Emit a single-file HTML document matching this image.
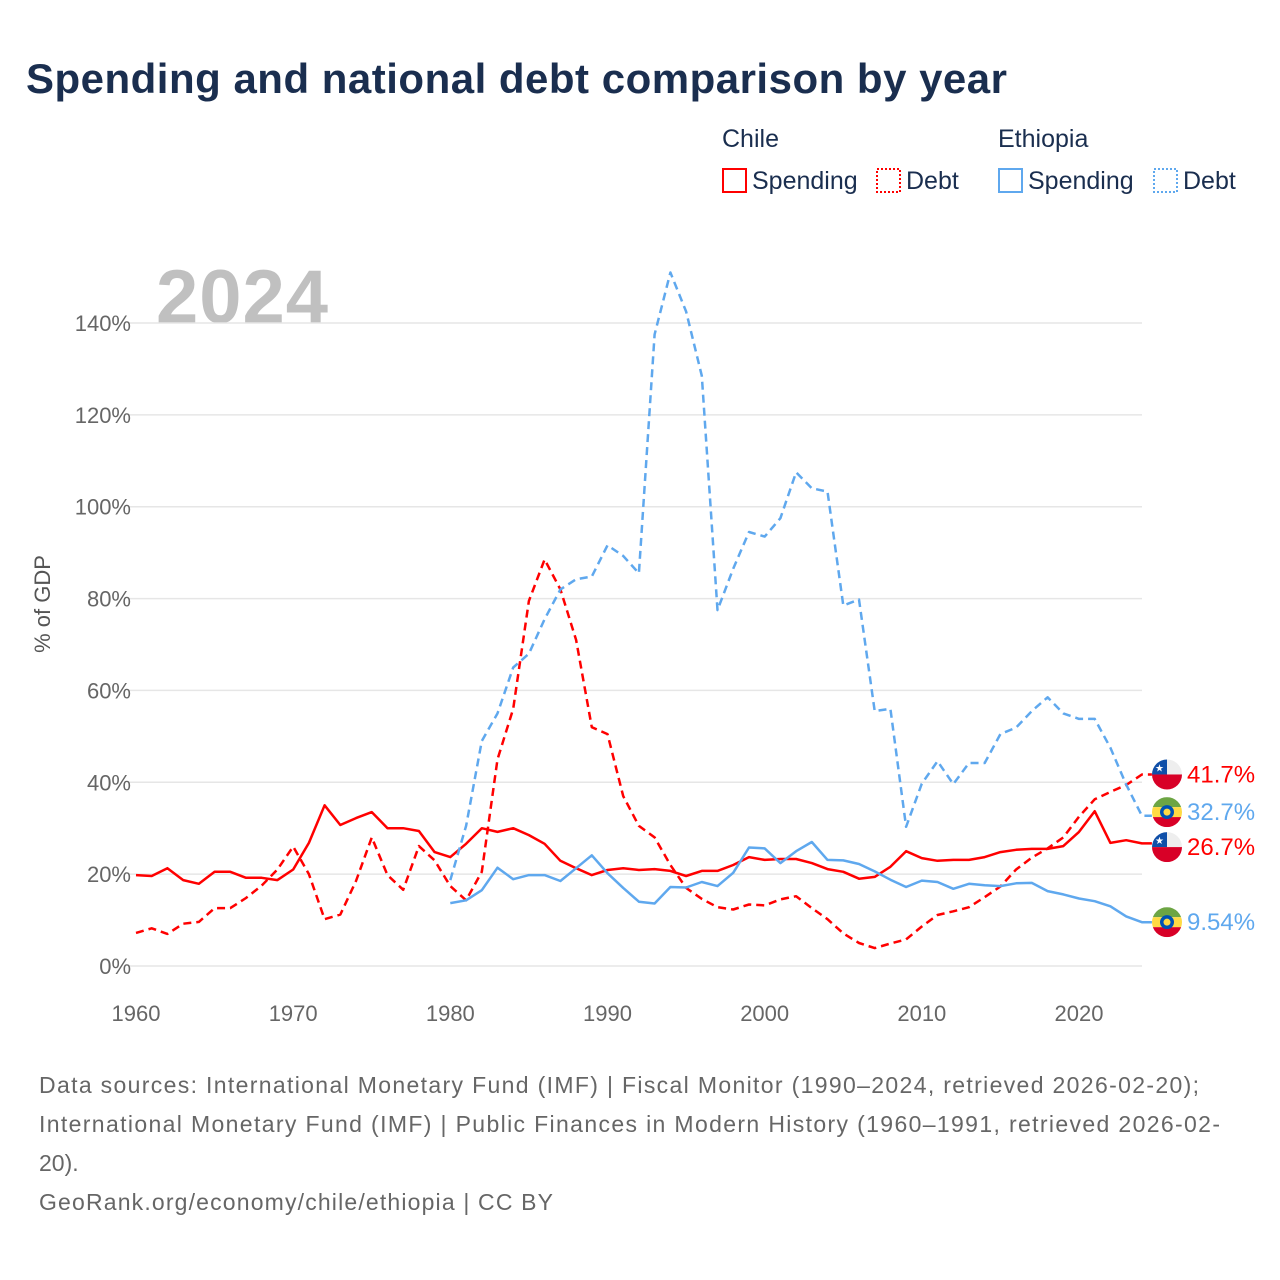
<!DOCTYPE html>
<html><head><meta charset="utf-8"><style>
body{margin:0;background:#fff;width:1280px;height:1280px;overflow:hidden;font-family:"Liberation Sans",sans-serif;}
svg{display:block}
</style></head><body>
<svg id="chart" width="1280" height="1280" xmlns="http://www.w3.org/2000/svg">
<text x="26" y="93" font-size="42" font-weight="bold" fill="#1a2e4f" textLength="981">Spending and national debt comparison by year</text>
<g font-size="25" fill="#1a2e4f">
<text x="722" y="147">Chile</text>
<text x="998" y="147">Ethiopia</text>
<g><rect x="723" y="169" width="23" height="23" fill="none" stroke="#f00" stroke-width="2"/><text x="752" y="189">Spending</text></g>
<g><rect x="877" y="169" width="23" height="23" fill="none" stroke="#f00" stroke-width="2" stroke-dasharray="2,2"/><text x="906" y="189">Debt</text></g>
<g><rect x="999" y="169" width="23" height="23" fill="none" stroke="#5fa8ee" stroke-width="2"/><text x="1028" y="189">Spending</text></g>
<g><rect x="1154" y="169" width="23" height="23" fill="none" stroke="#5fa8ee" stroke-width="2" stroke-dasharray="2,2"/><text x="1183" y="189">Debt</text></g>
</g>
<text x="156" y="323" font-size="76" font-weight="bold" fill="#c0c0c0" textLength="172">2024</text>
<text transform="translate(50,604) rotate(-90)" text-anchor="middle" font-size="22" fill="#555">% of GDP</text>
<g id="grid"></g><g id="series"></g><g id="ends"></g>
<g font-size="23" fill="#666">
<text x="39" y="1093" textLength="1160">Data sources: International Monetary Fund (IMF) | Fiscal Monitor (1990–2024, retrieved 2026-02-20);</text>
<text x="39" y="1132" textLength="1181">International Monetary Fund (IMF) | Public Finances in Modern History (1960–1991, retrieved 2026-02-</text>
<text x="39" y="1171">20).</text>
<text x="39" y="1210" textLength="514">GeoRank.org/economy/chile/ethiopia | CC BY</text>
</g>
</svg>
<script>
const yTicks=[0,20,40,60,80,100,120,140];
const xTicks=[1960,1970,1980,1990,2000,2010,2020];
const chileYears0=1960, ethYears0=1980;
const chileSpending=[19.8,19.6,21.3,18.7,17.9,20.5,20.5,19.2,19.2,18.7,21,26.8,35,30.7,32.2,33.5,30,30,29.4,24.8,23.7,26.6,30,29.2,30,28.5,26.6,22.9,21.3,19.8,20.9,21.3,20.9,21.1,20.7,19.6,20.7,20.7,22,23.7,23.1,23.3,23.3,22.4,21.1,20.5,19,19.4,21.6,25,23.5,22.9,23.1,23.1,23.7,24.8,25.3,25.5,25.5,26.1,29.2,33.7,26.8,27.4,26.7];
const chileDebt=[7.2,8.2,7.0,9.2,9.6,12.6,12.6,14.8,17.5,21,26,20,10.2,11.2,18.5,28,19.8,16.6,26.1,23,17.4,14.3,20.5,45,56,79.5,88.5,82,71,52,50.5,37,30.5,28,22,17,14.6,12.8,12.3,13.4,13.2,14.5,15.2,12.6,10.2,7.1,5.0,3.9,4.9,5.8,8.6,11.1,11.9,12.8,15.0,17.3,21,23.6,25.6,28,32.5,36.3,37.9,39.4,41.7];
const ethSpending=[13.7,14.3,16.5,21.4,18.9,19.8,19.8,18.5,21.3,24.1,20.2,17,14,13.6,17.2,17.1,18.3,17.4,20.3,25.8,25.6,22.4,25,27,23.1,23,22.2,20.6,18.8,17.2,18.6,18.3,16.8,17.9,17.6,17.4,18,18.1,16.3,15.6,14.7,14.1,13,10.8,9.54];
const ethDebt=[18.7,30.5,49,55,65,68,75.5,82,84.2,84.8,91.6,89.3,85.5,137.5,151,142.5,128.5,77.5,86.5,94.5,93.5,97.5,107.5,104,103.3,78.5,79.8,55.5,56,30.3,39.7,44.6,39.6,44.2,44.2,50.5,51.9,55.5,58.5,55,53.8,53.8,47.5,39.5,32.7];
const endLabels=["41.7%","32.7%","26.7%","9.54%"];
const NS="http://www.w3.org/2000/svg";
const X=yr=>136+(yr-1960)*(943/60);
const Y=v=>966-v*(643/140);
function mk(tag,attrs,parent){const e=document.createElementNS(NS,tag);for(const k in attrs)e.setAttribute(k,attrs[k]);parent.appendChild(e);return e;}
const grid=document.getElementById('grid');
yTicks.forEach(t=>{
 const l=mk('line',{x1:128,x2:1142,y1:Y(t),y2:Y(t),stroke:'#e6e6e6','stroke-width':1.5},grid);
 
 
 const tx=mk('text',{x:131,y:Y(t)+8,'text-anchor':'end','font-size':22,fill:'#666'},grid);
 tx.textContent=t+'%';
 
 
});
xTicks.forEach(t=>{
 const tx=mk('text',{x:X(t),y:1021,'text-anchor':'middle','font-size':22,fill:'#666'},grid);
 tx.textContent=t;
 
 
});
const ser=document.getElementById('series');
function line(arr,y0,color,dash,name){
 const pts=arr.map((v,i)=>X(y0+i).toFixed(1)+','+Y(v).toFixed(1));
 const last=arr[arr.length-1];
 pts.push((X(y0+arr.length-1)+10).toFixed(1)+','+Y(last).toFixed(1));
 const p=mk('polyline',{points:pts.join(' '),fill:'none',stroke:color,'stroke-width':2.5,'stroke-linejoin':'round'},ser);
 if(dash)p.setAttribute('stroke-dasharray','8,5');
 
 
}
line(chileSpending,chileYears0,'#ff0000',false,'chile-spending-line');
line(chileDebt,chileYears0,'#ff0000',true,'chile-debt-line');
line(ethSpending,ethYears0,'#5fa8ee',false,'ethiopia-spending-line');
line(ethDebt,ethYears0,'#5fa8ee',true,'ethiopia-debt-line');
const ends=document.getElementById('ends');
const endVals=[chileDebt[chileDebt.length-1],ethDebt[ethDebt.length-1],chileSpending[chileSpending.length-1],ethSpending[ethSpending.length-1]];
const endCountry=['chile','ethiopia','chile','ethiopia'];
const endColor=['#ff0000','#5fa8ee','#ff0000','#5fa8ee'];
const endYs=[];
endVals.forEach((v,i)=>{endYs.push(Y(v));});
// simple collision avoidance: keep labels >= 35px apart
for(let k=0;k<3;k++){for(let i=0;i<endYs.length;i++)for(let j=0;j<endYs.length;j++){if(i===j)continue;const d=endYs[j]-endYs[i];if(d>=0&&d<35){const s=(35-d)/2;endYs[i]-=s;endYs[j]+=s;}}}
endVals.forEach((v,i)=>{
 const cy=endYs[i], cx=1167;
 const g=mk('g',{},ends);
 
 
 const id='c'+i;
 const cp=mk('clipPath',{id:id},g);mk('circle',{cx:cx,cy:cy,r:15},cp);
 const fg=mk('g',{'clip-path':'url(#'+id+')'},g);
 if(endCountry[i]==='chile'){
  mk('rect',{x:cx-15,y:cy-15,width:30,height:15,fill:'#eee'},fg);
  mk('rect',{x:cx-15,y:cy-15,width:15,height:15,fill:'#0f4fa8'},fg);
  mk('rect',{x:cx-15,y:cy,width:30,height:15,fill:'#d80027'},fg);
  const s=mk('text',{x:cx-7.5,y:cy-3,'text-anchor':'middle','font-size':10,fill:'#fff'},fg);s.textContent='★';
 } else {
  mk('rect',{x:cx-15,y:cy-15,width:30,height:10,fill:'#6da544'},fg);
  mk('rect',{x:cx-15,y:cy-5,width:30,height:10,fill:'#ffda44'},fg);
  mk('rect',{x:cx-15,y:cy+5,width:30,height:10,fill:'#d80027'},fg);
  mk('circle',{cx:cx,cy:cy,r:7,fill:'#0052b4'},fg);
  mk('circle',{cx:cx,cy:cy,r:3.5,fill:'#ffda44'},fg);
 }
 const t=mk('text',{x:1187,y:cy+8,'font-size':24,fill:endColor[i]},ends);
 t.textContent=endLabels[i];
 
 
});
</script>
</body></html>
